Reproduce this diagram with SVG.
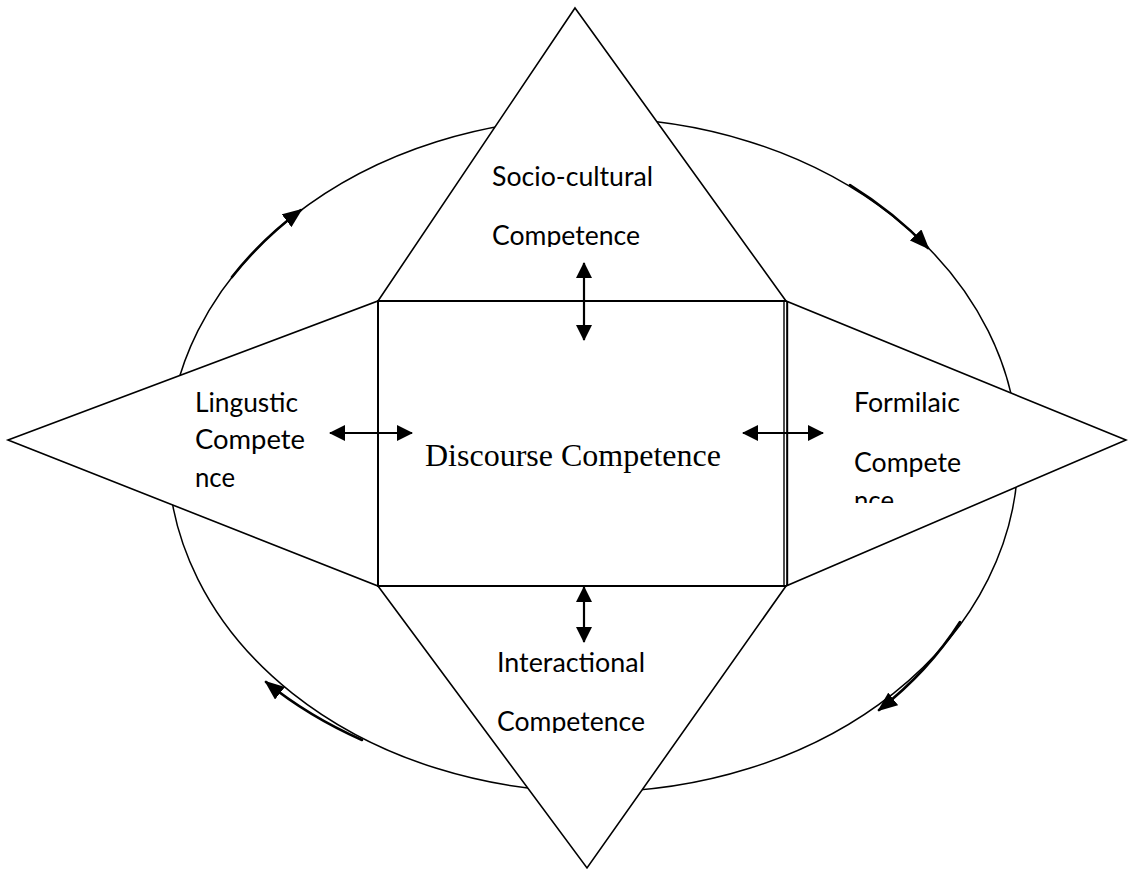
<svg xmlns="http://www.w3.org/2000/svg" width="1128" height="877" viewBox="0 0 1128 877">
  <style>
    .shape { fill: #ffffff; stroke: #000000; stroke-width: 1.6; stroke-linejoin: miter; }
    .ring { fill: none; stroke: #000000; stroke-width: 1.5; }
    .label { font-family: Lato, "Liberation Sans", sans-serif; font-size: 26px; fill: #000000; }
    .center { font-family: "Liberation Serif", "Times New Roman", serif; font-size: 32px; fill: #000000; }
    .link { stroke: #000000; stroke-width: 2.2; fill: none; }
    .flow { stroke: #000000; stroke-width: 2.6; fill: none; stroke-linecap: round; }
  </style>
  <defs>
    <marker id="head" markerUnits="userSpaceOnUse" markerWidth="16" markerHeight="16" viewBox="0 0 16 16" refX="15" refY="8" orient="auto-start-reverse">
      <path d="M0,0 L16,8 L0,16 z" fill="#000000"/>
    </marker>
    <marker id="flowhead" markerUnits="userSpaceOnUse" markerWidth="20" markerHeight="16" viewBox="0 0 20 16" refX="18" refY="8" orient="auto">
      <path d="M0,0 L20,8 L0,16 z" fill="#000000"/>
    </marker>
    <clipPath id="clip-top"><rect x="380" y="140" width="400" height="107"/></clipPath>
    <clipPath id="clip-right"><rect x="840" y="380" width="200" height="123"/></clipPath>
    <clipPath id="clip-bottom"><rect x="380" y="640" width="400" height="93"/></clipPath>
  </defs>

  <!-- outer cycle -->
  <g id="cycle">
    <ellipse class="ring" cx="593" cy="455" rx="425" ry="337"/>
  </g>

  <!-- socio-cultural (top) -->
  <g id="socio-cultural">
    <polygon class="shape" points="575,8 786,301 378,301"/>
    <g clip-path="url(#clip-top)">
      <text class="label" x="492" y="186" textLength="161" lengthAdjust="spacingAndGlyphs">Socio-cultural</text>
      <text class="label" x="492" y="245" textLength="148" lengthAdjust="spacingAndGlyphs">Competence</text>
    </g>
  </g>

  <!-- linguistic (left) -->
  <g id="linguistic">
    <polygon class="shape" points="8,440 378,301 378,586"/>
    <text class="label" x="195" y="412" textLength="103" lengthAdjust="spacingAndGlyphs">Lingustic</text>
    <text class="label" x="195" y="449" textLength="110" lengthAdjust="spacingAndGlyphs">Compete</text>
    <text class="label" x="195" y="487" textLength="40" lengthAdjust="spacingAndGlyphs">nce</text>
  </g>

  <!-- formulaic (right) -->
  <g id="formulaic">
    <polygon class="shape" points="1126,440 786,301 786,586"/>
    <g clip-path="url(#clip-right)">
      <text class="label" x="854" y="412" textLength="106" lengthAdjust="spacingAndGlyphs">Formilaic</text>
      <text class="label" x="854" y="472" textLength="107" lengthAdjust="spacingAndGlyphs">Compete</text>
      <text class="label" x="854" y="510" textLength="40" lengthAdjust="spacingAndGlyphs">nce</text>
    </g>
  </g>

  <!-- interactional (bottom) -->
  <g id="interactional">
    <polygon class="shape" points="378,586 786,586 587,868"/>
    <g clip-path="url(#clip-bottom)">
      <text class="label" x="497" y="672" textLength="148" lengthAdjust="spacingAndGlyphs">Interactional</text>
      <text class="label" x="497" y="731" textLength="148" lengthAdjust="spacingAndGlyphs">Competence</text>
    </g>
  </g>

  <!-- discourse (centre) -->
  <g id="discourse">
    <rect x="378" y="301" width="408" height="285" fill="#ffffff" stroke="none"/>
    <path d="M786,301 L378,301 L378,586 L786,586" fill="none" stroke="#000000" stroke-width="2"/>
    <line x1="784" y1="301" x2="784" y2="586" stroke="#000000" stroke-width="1.4"/>
    <line x1="787.5" y1="301" x2="787.5" y2="586" stroke="#000000" stroke-width="1.4"/>
    <text class="center" x="425" y="466">Discourse Competence</text>
  </g>

  <!-- connectors -->
  <g id="connectors">
    <line class="link" x1="584" y1="263" x2="584" y2="340" marker-start="url(#head)" marker-end="url(#head)"/>
    <line class="link" x1="584" y1="587" x2="584" y2="642" marker-start="url(#head)" marker-end="url(#head)"/>
    <line class="link" x1="330" y1="433" x2="412" y2="433" marker-start="url(#head)" marker-end="url(#head)"/>
    <line class="link" x1="743" y1="433" x2="823" y2="433" marker-start="url(#head)" marker-end="url(#head)"/>

    <path class="flow" d="M232,277 A425,337 0 0 1 301,210" marker-end="url(#flowhead)"/>
    <path class="flow" d="M850,185 A425,337 0 0 1 928,248" marker-end="url(#flowhead)"/>
    <path class="flow" d="M960,622 A425,337 0 0 1 879,710" marker-end="url(#flowhead)"/>
    <path class="flow" d="M362,740 A425,337 0 0 1 266,682" marker-end="url(#flowhead)"/>
  </g>
</svg>
